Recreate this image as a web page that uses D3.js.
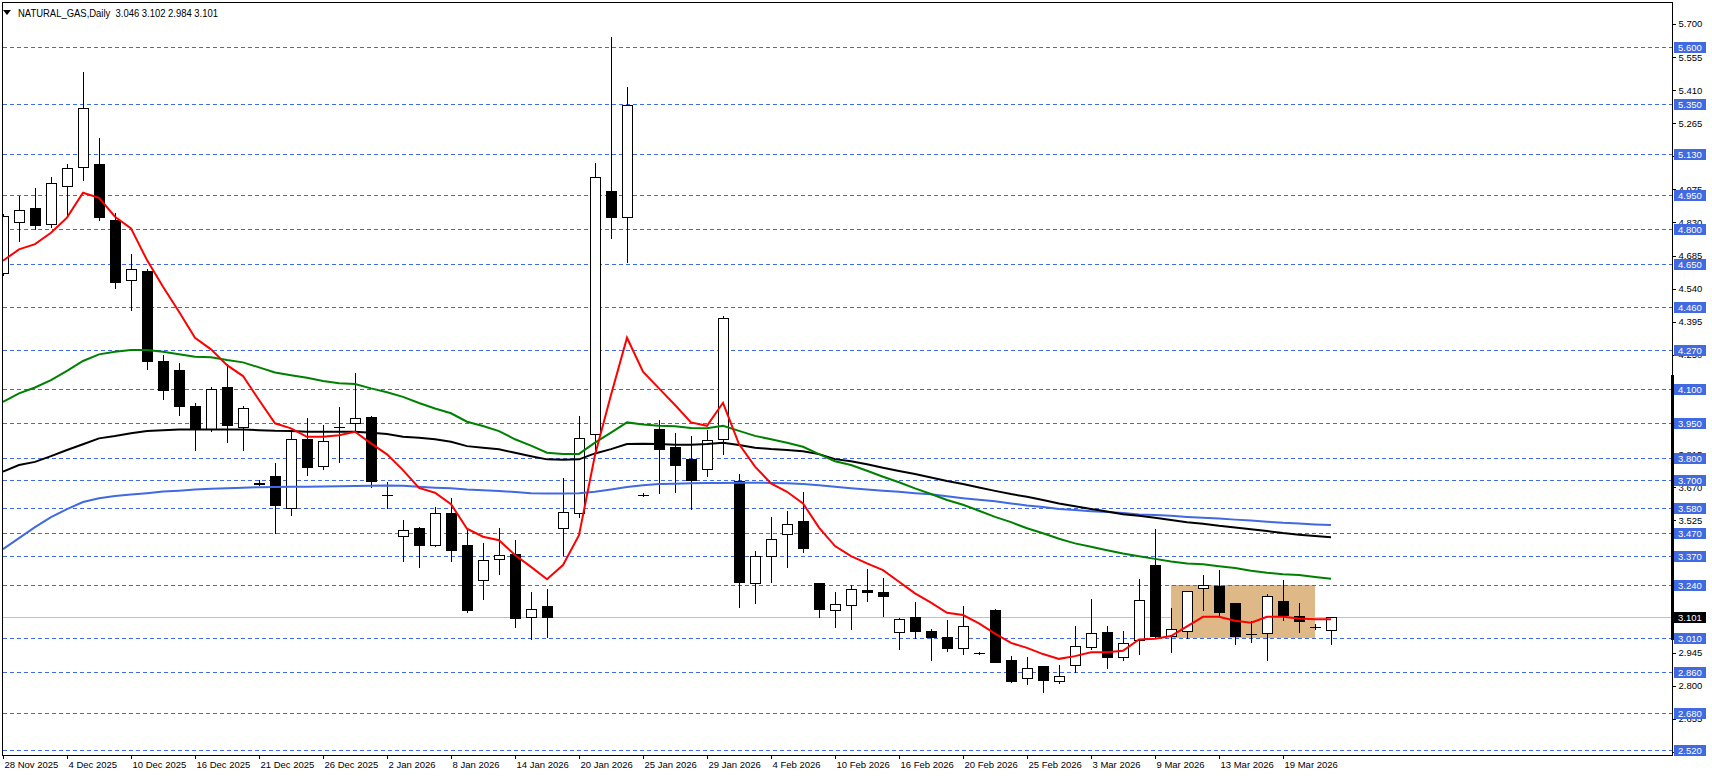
<!DOCTYPE html>
<html><head><meta charset="utf-8">
<script src="https://cdn.jsdelivr.net/npm/d3@7"></script>
<style>
html,body{margin:0;padding:0;background:#fff;}
svg{display:block;}
text{font-family:"Liberation Sans",Arial,sans-serif;}
</style></head>
<body><svg id="c" width="1712" height="776"></svg>
<script>
// ---------------- DATA ----------------
const symbolTitle = "NATURAL_GAS,Daily";
const lastOHLC = [3.046, 3.102, 2.984, 3.101];
const opens  = [4.610,4.833,4.892,4.822,4.991,5.074,5.086,4.841,4.576,4.617,4.223,4.183,4.026,3.925,4.107,3.932,3.687,3.718,3.580,3.880,3.761,3.936,3.950,3.977,3.634,3.456,3.490,3.418,3.555,3.419,3.262,3.355,3.376,3.100,3.149,3.492,3.555,3.902,4.966,4.855,3.636,3.923,3.846,3.795,3.748,3.880,3.698,3.249,3.367,3.463,3.521,3.249,3.130,3.152,3.221,3.209,3.036,3.101,3.040,3.013,2.964,2.943,3.131,2.911,2.832,2.886,2.819,2.889,2.968,3.034,2.924,3.000,3.328,3.019,3.041,3.227,3.236,3.161,3.028,3.033,3.171,3.107,3.059,3.046];
const highs  = [4.867,4.947,4.982,5.029,5.086,5.489,5.200,4.870,4.692,4.625,4.248,4.214,4.040,4.107,4.210,4.026,3.700,3.774,3.916,3.972,3.944,4.020,4.170,3.980,3.694,3.526,3.494,3.582,3.622,3.482,3.424,3.490,3.438,3.209,3.224,3.709,3.982,5.089,5.644,5.423,3.645,3.963,3.906,3.894,3.920,4.420,3.728,3.391,3.538,3.565,3.650,3.252,3.209,3.241,3.311,3.272,3.098,3.165,3.048,3.088,3.149,2.950,3.137,2.930,2.927,2.886,2.891,3.062,3.180,3.063,3.040,3.267,3.487,3.142,3.214,3.285,3.307,3.161,3.083,3.200,3.263,3.163,3.072,3.102];
const lows   = [4.600,4.749,4.800,4.811,4.859,5.016,4.841,4.543,4.448,4.189,4.058,3.987,3.834,3.916,3.868,3.834,3.680,3.470,3.550,3.722,3.748,3.781,3.913,3.672,3.580,3.348,3.319,3.413,3.348,3.124,3.181,3.290,3.058,3.003,3.015,3.373,3.540,3.825,4.763,4.658,3.630,3.643,3.650,3.573,3.720,3.814,3.146,3.161,3.256,3.321,3.384,3.102,3.056,3.050,3.172,3.107,2.959,3.008,2.914,2.952,2.940,2.938,2.905,2.816,2.810,2.771,2.813,2.859,2.962,2.879,2.911,2.940,3.015,2.949,3.008,3.131,3.107,2.984,2.993,2.912,3.088,3.036,3.049,2.984];
const closes = [4.858,4.883,4.820,5.001,5.068,5.330,4.855,4.570,4.625,4.224,4.094,4.027,3.930,4.099,3.942,4.015,3.685,3.590,3.880,3.757,3.871,3.936,3.972,3.696,3.634,3.482,3.418,3.555,3.396,3.133,3.349,3.371,3.098,3.135,3.102,3.560,3.884,5.028,4.855,5.343,3.636,3.838,3.768,3.703,3.875,4.410,3.256,3.369,3.445,3.511,3.402,3.135,3.157,3.225,3.212,3.194,3.091,3.041,3.015,2.966,3.060,2.943,2.905,2.822,2.879,2.826,2.845,2.973,3.030,2.924,2.986,3.174,3.019,3.047,3.214,3.240,3.124,3.019,3.028,3.192,3.111,3.085,3.059,3.101];

const maRed   = [4.662,4.712,4.735,4.785,4.851,4.960,4.938,4.855,4.804,4.665,4.548,4.439,4.325,4.274,4.205,4.157,4.052,3.950,3.928,3.891,3.891,3.898,3.913,3.862,3.814,3.745,3.667,3.646,3.596,3.488,3.453,3.438,3.373,3.321,3.267,3.329,3.460,3.811,4.074,4.325,4.176,4.103,4.030,3.954,3.939,4.040,3.859,3.760,3.687,3.650,3.599,3.493,3.412,3.368,3.336,3.307,3.256,3.205,3.164,3.120,3.110,3.073,3.029,2.988,2.966,2.939,2.918,2.930,2.947,2.947,2.953,3.003,3.006,3.018,3.060,3.102,3.102,3.085,3.076,3.102,3.102,3.095,3.092,3.092];
const maGreen = [4.044,4.081,4.107,4.139,4.180,4.223,4.252,4.263,4.271,4.271,4.263,4.253,4.242,4.239,4.227,4.217,4.195,4.173,4.161,4.150,4.135,4.125,4.122,4.103,4.086,4.066,4.039,4.015,3.994,3.957,3.938,3.916,3.880,3.852,3.821,3.816,3.816,3.865,3.909,3.954,3.945,3.939,3.937,3.929,3.928,3.939,3.917,3.895,3.880,3.865,3.847,3.815,3.784,3.767,3.742,3.716,3.692,3.665,3.640,3.614,3.593,3.567,3.540,3.517,3.490,3.468,3.444,3.424,3.409,3.394,3.380,3.368,3.356,3.345,3.336,3.333,3.324,3.316,3.304,3.295,3.289,3.285,3.277,3.269];
const maBlack = [3.738,3.767,3.781,3.806,3.833,3.858,3.884,3.894,3.906,3.916,3.920,3.923,3.923,3.923,3.923,3.923,3.920,3.917,3.916,3.913,3.913,3.913,3.913,3.909,3.903,3.891,3.887,3.880,3.869,3.850,3.843,3.836,3.821,3.806,3.792,3.790,3.792,3.818,3.837,3.859,3.860,3.859,3.856,3.856,3.859,3.865,3.855,3.843,3.837,3.833,3.828,3.815,3.793,3.784,3.771,3.755,3.741,3.728,3.713,3.697,3.684,3.669,3.654,3.640,3.628,3.614,3.599,3.587,3.575,3.564,3.552,3.545,3.536,3.526,3.517,3.510,3.501,3.494,3.486,3.478,3.469,3.462,3.456,3.451];
const maBlue  = [3.399,3.447,3.495,3.539,3.574,3.605,3.622,3.631,3.638,3.644,3.651,3.655,3.660,3.663,3.666,3.668,3.670,3.671,3.672,3.672,3.673,3.674,3.675,3.676,3.677,3.676,3.672,3.668,3.665,3.660,3.657,3.653,3.649,3.644,3.643,3.643,3.644,3.650,3.660,3.671,3.679,3.684,3.685,3.687,3.688,3.689,3.690,3.690,3.689,3.687,3.684,3.679,3.672,3.666,3.660,3.655,3.650,3.644,3.639,3.630,3.622,3.615,3.608,3.599,3.590,3.583,3.575,3.570,3.565,3.561,3.557,3.551,3.548,3.545,3.540,3.536,3.533,3.528,3.524,3.519,3.514,3.511,3.507,3.504];

const dateTickIndex  = [0,4,8,12,16,20,24,28,32,36,40,44,48,52,56,60,64,68,72,76,80];
const dateTickLabels = ["28 Nov 2025","4 Dec 2025","10 Dec 2025","16 Dec 2025","21 Dec 2025","26 Dec 2025","2 Jan 2026","8 Jan 2026","14 Jan 2026","20 Jan 2026","25 Jan 2026","29 Jan 2026","4 Feb 2026","10 Feb 2026","16 Feb 2026","20 Feb 2026","25 Feb 2026","3 Mar 2026","9 Mar 2026","13 Mar 2026","19 Mar 2026"];
const priceTicks = [5.700,5.555,5.410,5.265,5.120,4.975,4.830,4.685,4.540,4.395,4.250,4.105,3.960,3.815,3.670,3.525,3.380,3.235,3.090,2.945,2.800,2.655,2.510];
const levelLines = [5.600,5.350,5.130,4.950,4.800,4.650,4.460,4.270,4.100,3.950,3.800,3.700,3.580,3.470,3.370,3.240,3.010,2.860,2.680,2.520];
const currentPrice = 3.101;
const zoneBars = [73, 82];
const zonePrices = [3.240, 3.010];
const axisBandPrices = [3.000, 4.160];

// ---------------- LAYOUT ----------------
const W = 1712, H = 776;
const L = 2.5, R = 1672.5, T = 2.5, B = 755.5;
const svg = d3.select("#c");
svg.append("rect").attr("width", W).attr("height", H).attr("fill", "#fff");

const n = closes.length;
const x = d3.scaleLinear().domain([0, n - 1]).range([3, 3 + 16 * (n - 1)]);
const y = d3.scaleLinear().domain([2.52, 5.60]).range([749.7, 46.7]);
const px = v => Math.round(v) + 0.5;

svg.append("defs").append("clipPath").attr("id", "plot")
  .append("rect").attr("x", L).attr("y", T).attr("width", R - L).attr("height", B - T);
const plot = svg.append("g").attr("clip-path", "url(#plot)");

// zone rectangle (background)
plot.append("rect")
  .attr("x", Math.round(x(zoneBars[0])))
  .attr("y", Math.round(y(zonePrices[0])))
  .attr("width", Math.round(x(zoneBars[1])) - Math.round(x(zoneBars[0])))
  .attr("height", Math.round(y(zonePrices[1])) - Math.round(y(zonePrices[0])))
  .attr("fill", "#DEB887");

// dashed level lines
plot.selectAll("line.lvl").data(levelLines).join("line").attr("class", "lvl")
  .attr("x1", L).attr("x2", R)
  .attr("y1", d => px(y(d))).attr("y2", d => px(y(d)))
  .attr("stroke", "#4169E1").attr("stroke-width", 1)
  .attr("stroke-dasharray", "4,3").attr("shape-rendering", "crispEdges");

// current price line
plot.append("line").attr("x1", L).attr("x2", R)
  .attr("y1", px(y(currentPrice))).attr("y2", px(y(currentPrice)))
  .attr("stroke", "#C0C0C0").attr("stroke-width", 1).attr("shape-rendering", "crispEdges");

// candles
const idx = d3.range(n);
const cg = plot.append("g").attr("shape-rendering", "crispEdges");
cg.selectAll("line.wick").data(idx).join("line").attr("class", "wick")
  .attr("x1", i => px(x(i))).attr("x2", i => px(x(i)))
  .attr("y1", i => Math.round(y(highs[i]))).attr("y2", i => Math.round(y(lows[i])) + 1)
  .attr("stroke", "#000").attr("stroke-width", 1);
cg.selectAll("rect.body").data(idx.filter(i => Math.abs(Math.round(y(opens[i])) - Math.round(y(closes[i]))) >= 1))
  .join("rect").attr("class", "body")
  .attr("x", i => Math.round(x(i)) - 5 + 0.5)
  .attr("width", 10)
  .attr("y", i => Math.round(y(Math.max(opens[i], closes[i]))) + 0.5)
  .attr("height", i => Math.round(y(Math.min(opens[i], closes[i]))) - Math.round(y(Math.max(opens[i], closes[i]))))
  .attr("fill", i => closes[i] >= opens[i] ? "#fff" : "#000")
  .attr("stroke", "#000").attr("stroke-width", 1);
cg.selectAll("line.doji").data(idx.filter(i => Math.abs(Math.round(y(opens[i])) - Math.round(y(closes[i]))) < 1))
  .join("line").attr("class", "doji")
  .attr("x1", i => Math.round(x(i)) - 5).attr("x2", i => Math.round(x(i)) + 6)
  .attr("y1", i => px(y(closes[i]))).attr("y2", i => px(y(closes[i])))
  .attr("stroke", "#000").attr("stroke-width", 1);

// moving averages
const line = d3.line().x((d, i) => x(i)).y(d => y(d));
[[maBlue, "#4169E1"], [maBlack, "#000000"], [maGreen, "#008000"], [maRed, "#FF0000"]].forEach(([arr, col]) => {
  plot.append("path").datum(arr).attr("d", line)
    .attr("fill", "none").attr("stroke", col).attr("stroke-width", 2)
    .attr("stroke-linejoin", "miter");
});

// frame
svg.append("path")
  .attr("d", `M${L},${B}V${T}H${R}V${B}H${L}`)
  .attr("fill", "none").attr("stroke", "#000").attr("stroke-width", 1).attr("shape-rendering", "crispEdges");

// right price axis
const yAxis = d3.axisRight(y).tickValues(priceTicks).tickFormat(d3.format(".3f")).tickSize(3).tickPadding(3);
const gy = svg.append("g").attr("transform", `translate(${R},0)`).call(yAxis);
gy.select(".domain").remove();
gy.selectAll(".tick line").attr("stroke", "#000").attr("shape-rendering", "crispEdges");
gy.selectAll(".tick text").attr("font-size", "9.5px").attr("fill", "#000").attr("font-family", "Liberation Sans, Arial, sans-serif");

// thick band on axis
svg.append("rect").attr("x", R - 1.5).attr("width", 3)
  .attr("y", Math.round(y(axisBandPrices[1]))).attr("height", Math.round(y(axisBandPrices[0])) - Math.round(y(axisBandPrices[1])))
  .attr("fill", "#000");

// level labels
const lg = svg.append("g");
levelLines.forEach(v => {
  const yy = Math.round(y(v));
  lg.append("rect").attr("x", 1674).attr("y", yy - 5).attr("width", 32).attr("height", 11).attr("fill", "#4169E1");
  lg.append("text").attr("x", 1678).attr("y", yy + 0.5).attr("dy", "0.35em").attr("font-size", "9.5px")
    .attr("fill", "#fff").text(d3.format(".3f")(v));
});
{
  const yy = Math.round(y(currentPrice));
  lg.append("rect").attr("x", 1672).attr("y", yy - 5).attr("width", 34).attr("height", 11).attr("fill", "#000");
  lg.append("text").attr("x", 1678).attr("y", yy + 0.5).attr("dy", "0.35em").attr("font-size", "9.5px")
    .attr("fill", "#fff").text(d3.format(".3f")(currentPrice));
}

// bottom date axis
const xAxis = d3.axisBottom(x).tickValues(dateTickIndex).tickFormat((d, i) => dateTickLabels[i]).tickSize(3);
const gx = svg.append("g").attr("transform", `translate(0,${B})`).call(xAxis);
gx.select(".domain").remove();
gx.selectAll(".tick line").attr("stroke", "#000").attr("shape-rendering", "crispEdges");
gx.selectAll(".tick text").attr("font-size", "9.5px").attr("fill", "#000")
  .attr("font-family", "Liberation Sans, Arial, sans-serif")
  .attr("text-anchor", "start").attr("x", 1).attr("y", 5.5).attr("dy", "0.71em");

// title
svg.append("path").attr("d", "M3,10L11,10L7,15Z").attr("fill", "#000");
svg.append("text").attr("x", 18).attr("y", 17).attr("font-size", "11px").attr("fill", "#000")
  .attr("textLength", 200).attr("lengthAdjust", "spacingAndGlyphs")
  .style("white-space", "pre")
  .text(symbolTitle + "  " + lastOHLC.map(d3.format(".3f")).join(" "));
</script>
</body></html>
